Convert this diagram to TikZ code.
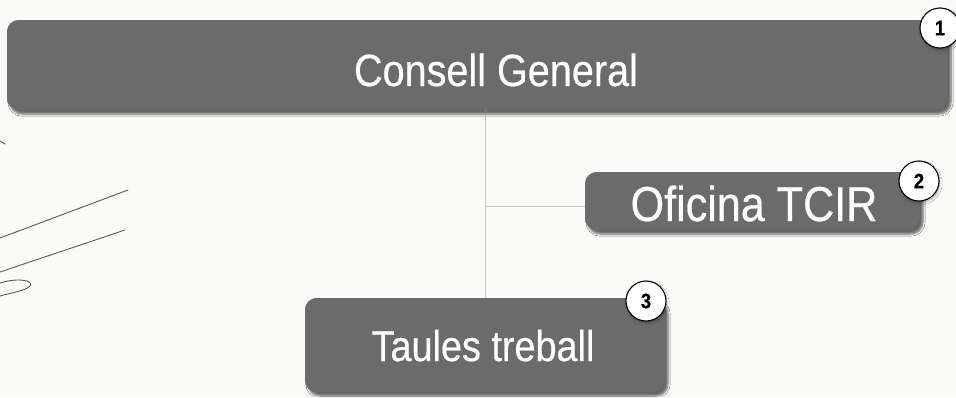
\documentclass[tikz,border=0pt]{standalone}
\usepackage{fontspec}
\setmainfont[FakeStretch=0.88,FakeBold=0.5]{Liberation Sans}
\usetikzlibrary{shadows.blur}
\definecolor{boxgray}{HTML}{6B6B6B}
\definecolor{paper}{HTML}{FAFAF8}
\definecolor{linegray}{HTML}{C8C8C8}
\definecolor{inkgray}{HTML}{5A5A5A}
\begin{document}
\begin{tikzpicture}[x=1pt,y=-1pt,
  orgbox/.style={fill=boxgray, rounded corners=12pt, draw=none,
    blur shadow={shadow xshift=3pt, shadow yshift=-4pt, shadow blur steps=6, shadow opacity=35}},
  orgtext/.style={text=white, inner sep=0pt, anchor=base},
  badge/.style={circle, fill=white, draw=black, line width=1.1pt, minimum size=40pt, inner sep=0pt,
    font=\fontsize{21}{21}\selectfont\bfseries,
    blur shadow={shadow xshift=1pt, shadow yshift=-2pt, shadow blur steps=4, shadow opacity=30}},
  link/.style={draw=linegray, line width=0.8pt},
  ink/.style={draw=inkgray, line width=0.9pt, line cap=round}]
\fill[paper] (0,0) rectangle (956,397);
\useasboundingbox (0,0) rectangle (956,397);
% boxes
\node[orgbox, minimum width=941pt, minimum height=90pt] (cg) at (477.5,65) {};
\node[orgbox, minimum width=335pt, minimum height=58pt] (of) at (752.5,201) {};
\node[orgbox, minimum width=360pt, minimum height=94pt] (tt) at (485,345) {};
% connectors
\coordinate (hub) at (485,206);
\draw[link] (cg.south -| hub) -- (tt.north -| hub);
\draw[link] (hub) -- (of.west |- hub);
% redraw boxes on top of connectors
\node[orgbox, minimum width=941pt, minimum height=90pt] at (477.5,65) {};
\node[orgbox, minimum width=335pt, minimum height=58pt] at (752.5,201) {};
\node[orgbox, minimum width=360pt, minimum height=94pt] at (485,345) {};
\node[orgtext, font=\fontsize{45}{45}\selectfont] (cgt) at (496,86) {Consell General};
\node[orgtext, font=\fontsize{49}{49}\selectfont] (oft) at (754,221) {Oficina TCIR};
\node[orgtext, font=\fontsize{43}{43}\selectfont] (ttt) at (483,361) {Taules treball};
\node[badge] (b1) at (940,28) {1};
\node[badge] (b2) at (919,181) {2};
\node[badge] (b3) at (646,301) {3};
% signature strokes
\draw[ink] (0,238) -- (128,190);
\draw[ink] (0,272) -- (125,230);
\draw[ink] (0,283) .. controls (20,277) and (34,281) .. (30,286) .. controls (25,291) and (10,293) .. (0,296);
\draw[ink] (0,141) -- (5,144);
\end{tikzpicture}
\end{document}
